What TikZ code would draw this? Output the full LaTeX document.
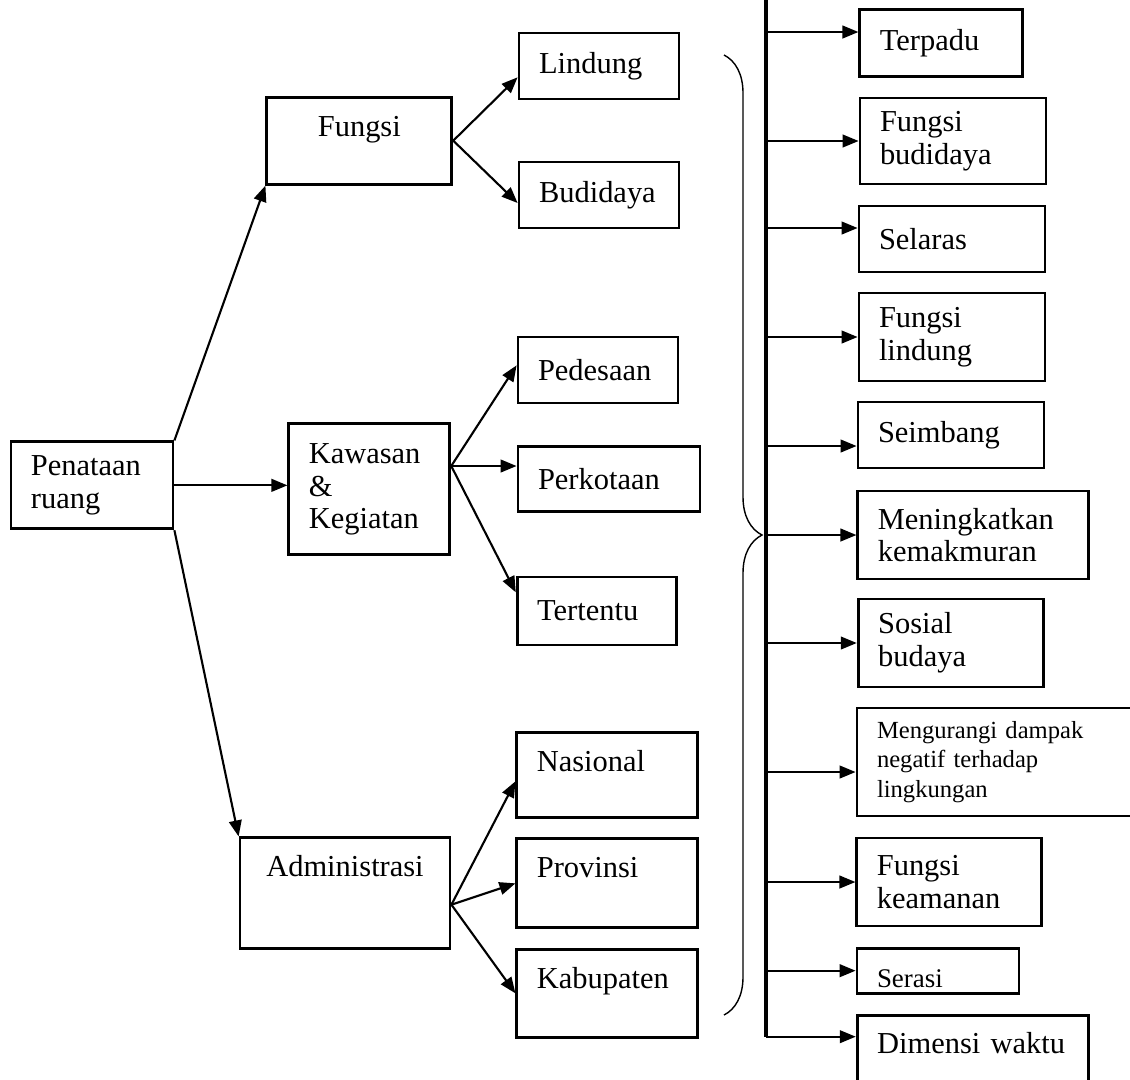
\documentclass[tikz,border=0pt]{standalone}
\usepackage{fontspec}
\setmainfont{Liberation Serif}
\usetikzlibrary{arrows.meta,decorations.pathreplacing}

\begin{document}
\begin{tikzpicture}[
  box/.style={draw, line width=1.2pt, inner xsep=3mm, inner ysep=1mm, align=left, font=\fontsize{13}{14}\selectfont},
  topbox/.style={box, inner ysep=0pt, text height=5.85mm},
  arr/.style={-{Triangle[length=2.4mm,width=1.9mm]}, line width=0.9pt},
  bus/.style={line width=1.3pt},
  brc/.style={decorate, decoration={brace, amplitude=5.7mm}, line width=0.6pt}
]
\useasboundingbox (0,0) rectangle (16.95,-16.185);
% column 1: root
\node[box, text width=18.3mm, minimum height=13.05mm] (pen) at (1.38,-7.28) {Penataan\\ruang};
% column 2: main groups
\node[topbox, align=center, text width=21.75mm, text depth=7.2mm] (fun) at (5.39,-2.11) {Fungsi};
\node[box, text width=18.15mm, minimum height=19.65mm] (kaw) at (5.54,-7.34) {Kawasan\\\&\\Kegiatan};
\node[topbox, align=center, text width=25.5mm, text depth=10.8mm] (adm) at (5.175,-13.40) {Administrasi};
% column 3: sub groups
\node[box, text width=18mm, minimum height=9.9mm] (lin) at (8.985,-0.99) {Lindung};
\node[box, text width=18mm, minimum height=9.9mm] (bud) at (8.985,-2.925) {Budidaya};
\node[box, text width=18mm, minimum height=9.9mm] (ped) at (8.97,-5.55) {Pedesaan};
\node[box, text width=21.3mm, minimum height=9.75mm] (per) at (9.135,-7.19) {Perkotaan};
\node[box, text width=17.85mm, minimum height=10.2mm] (ter) at (8.95,-9.165) {Tertentu};
\node[topbox, text width=21.15mm, text depth=6.9mm] (nas) at (9.11,-11.62) {Nasional};
\node[topbox, text width=21.15mm, text depth=7.5mm] (pro) at (9.11,-13.25) {Provinsi};
\node[topbox, text width=21.15mm, text depth=7.35mm] (kab) at (9.11,-14.90) {Kabupaten};
% column 4: aims
\node[box, text width=18.45mm, minimum height=10.05mm] (t1) at (14.12,-0.65) {Terpadu};
\node[box, text width=21.9mm, minimum height=12.9mm] (t2) at (14.295,-2.115) {Fungsi\\budidaya};
\node[box, text width=21.9mm, minimum height=9.9mm] (t3) at (14.28,-3.585) {Selaras};
\node[box, text width=21.9mm, minimum height=13.2mm] (t4) at (14.28,-5.055) {Fungsi\\lindung};
\node[box, text width=21.9mm, minimum height=9.9mm] (t5) at (14.265,-6.525) {Seimbang};
\node[box, text width=28.65mm, minimum height=13.2mm] (t6) at (14.6,-8.025) {Meningkatkan\\kemakmuran};
\node[box, text width=21.75mm, minimum height=13.2mm] (t7) at (14.26,-9.645) {Sosial\\budaya};
\node[box, text width=35.4mm, minimum height=16.2mm, font=\fontsize{10.5}{12.5}\selectfont] (t8) at (14.925,-11.43) {Mengurangi dampak\\negatif terhadap\\lingkungan};
\node[box, text width=21.75mm, minimum height=13.2mm] (t9) at (14.24,-13.23) {Fungsi\\keamanan};
\node[topbox, text width=18.3mm, text depth=0.9mm, font=\fontsize{11.5}{13}\selectfont] (t10) at (14.07,-14.56) {Serasi};
\node[topbox, text width=28.65mm, text height=5.7mm, text depth=8.55mm] (t11) at (14.59,-15.94) {Dimensi waktu};
% arrows: root to groups
\draw[arr] (pen.north east) -- (fun.south west);
\draw[arr] (pen.east) -- (pen.east -| kaw.west);
\draw[arr] (pen.south east) -- (adm.north west);
% arrows: groups to sub groups
\draw[arr] (fun.east) -- ([yshift=-1.7mm]lin.west);
\draw[arr] (fun.east) -- ([yshift=-1.2mm]bud.west);
\coordinate (kawout) at ([yshift=3.5mm]kaw.east);
\draw[arr] (kawout) -- ([yshift=0.7mm]ped.west);
\draw[arr] (kawout) -- (kawout -| per.west);
\draw[arr] (kawout) -- ([yshift=2.8mm]ter.west);
\coordinate (admout) at ([yshift=-1.7mm]adm.east);
\draw[arr] (admout) -- ([yshift=-1mm]nas.west);
\draw[arr] (admout) -- (pro.west);
\draw[arr] (admout) -- (kab.west);
% brace and bus
\coordinate (brtop) at (10.86,-0.825);
\coordinate (brbot) at (10.86,-15.225);
\draw[brc] (brtop) -- (brbot);
\coordinate (bus) at (11.49,0.1);
\path (t11.west) ++(0,0.39) coordinate (busend);
\draw[bus] (bus) -- (bus |- busend);
\foreach \t/\dy in {t1/0.17, t2/0, t3/0.165, t4/0, t5/-0.165, t6/0, t7/0, t8/-0.15, t9/0, t10/0, t11/0.39} {
  \path (\t.west) ++(0,\dy) coordinate (tip);
  \draw[arr] (bus |- tip) -- (tip);
}
\end{tikzpicture}
\end{document}
